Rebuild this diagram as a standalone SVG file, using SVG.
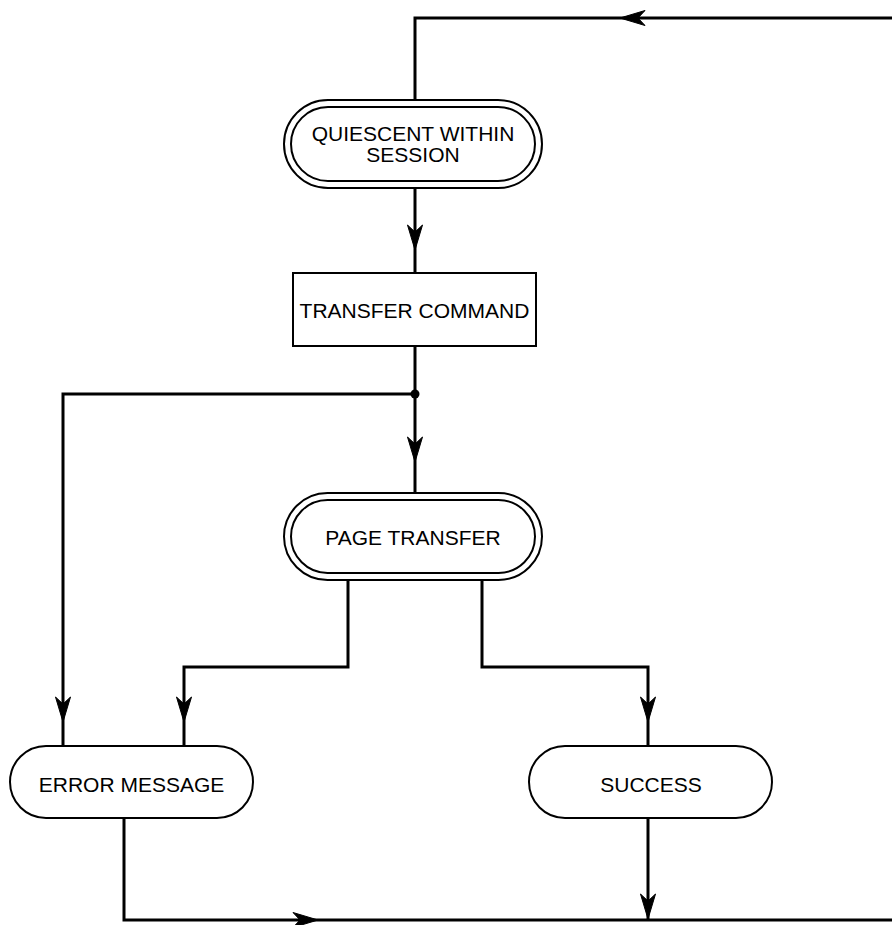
<svg xmlns="http://www.w3.org/2000/svg" width="892" height="925" viewBox="0 0 892 925">
<defs>
<style>
.n{fill:#fff;stroke:#000;stroke-width:2}
.t{font-family:"Liberation Sans",Arial,sans-serif;font-size:21px;fill:#000;text-anchor:middle}
.c{fill:none;stroke:#000;stroke-width:3;stroke-linejoin:miter}
.a{fill:#000;stroke:#000;stroke-width:1;stroke-linejoin:miter}
</style>
<path id="ah" d="M0,0 L-25,-7.5 L-18,0 L-25,7.5 Z"/>
</defs>
<rect width="892" height="925" fill="#fff"/>
<g id="connectors">
<polyline class="c" points="415,100 415,18 894,18"/>
<line class="c" x1="415" y1="188" x2="415" y2="273"/>
<line class="c" x1="415" y1="346" x2="415" y2="493"/>
<polyline class="c" points="415,394 63,394 63,746"/>
<polyline class="c" points="348,580 348,667 184,667 184,746"/>
<polyline class="c" points="482,580 482,667 648,667 648,746"/>
<polyline class="c" points="124,818 124,920 894,920"/>
<line class="c" x1="648" y1="818" x2="648" y2="920"/>
<circle cx="415" cy="394" r="4.5" fill="#000"/>
<use href="#ah" class="a" transform="translate(620,18) rotate(180)"/>
<use href="#ah" class="a" transform="translate(415,250) rotate(90)"/>
<use href="#ah" class="a" transform="translate(415,462) rotate(90)"/>
<use href="#ah" class="a" transform="translate(63,722) rotate(90)"/>
<use href="#ah" class="a" transform="translate(184,722) rotate(90)"/>
<use href="#ah" class="a" transform="translate(648,722) rotate(90)"/>
<use href="#ah" class="a" transform="translate(648,919) rotate(90)"/>
<use href="#ah" class="a" transform="translate(318,920)"/>
</g>
<g id="quiescent">
<rect class="n" x="284" y="100" width="258" height="88" rx="44"/>
<rect class="n" x="291" y="107" width="244" height="74" rx="37"/>
<text class="t" x="413" y="141">QUIESCENT WITHIN</text>
<text class="t" x="413" y="162">SESSION</text>
</g>
<g id="transfer-command">
<rect class="n" x="293" y="273" width="243" height="73" stroke-width="1.5"/>
<text class="t" x="414.5" y="318">TRANSFER COMMAND</text>
</g>
<g id="page-transfer">
<rect class="n" x="284" y="493" width="258" height="87" rx="43.5"/>
<rect class="n" x="291" y="500" width="244" height="73" rx="36.5"/>
<text class="t" x="413" y="545">PAGE TRANSFER</text>
</g>
<g id="error-message">
<rect class="n" x="10" y="746" width="243" height="72" rx="36"/>
<text class="t" x="131.5" y="792">ERROR MESSAGE</text>
</g>
<g id="success">
<rect class="n" x="529" y="746" width="243" height="72" rx="36"/>
<text class="t" x="651" y="792">SUCCESS</text>
</g>
</svg>
